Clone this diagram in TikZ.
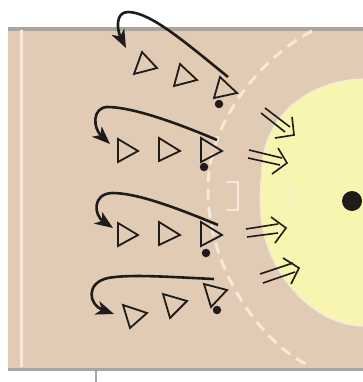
\documentclass[tikz,border=0pt]{standalone}
\usepackage{tikz}
\usetikzlibrary{arrows.meta}
\definecolor{court}{HTML}{E1CBB4}
\definecolor{goalarea}{HTML}{F8F5B0}
\definecolor{courtedge}{HTML}{A8A6A2}
\definecolor{ink}{HTML}{1E1C1B}
\definecolor{paleline}{HTML}{F3E9DC}
\tikzset{
  player/.style={draw=ink,line width=1.8pt,line join=miter},
  run/.style={draw=ink,line width=2.6pt,line cap=butt,-{Stealth[length=18pt,width=14pt,inset=5pt]}},
  shaft/.style={draw=ink,line width=1.6pt},
  ballmark/.style={circle,fill=ink,inner sep=0pt,minimum size=8.5pt},
  courtline/.style={draw=paleline,line width=2.8pt},
}
\begin{document}
\begin{tikzpicture}[x=1pt,y=-1pt]
\useasboundingbox (0,0) rectangle (363,382);
\fill[court] (8,29) rectangle (363,369);
\draw[courtedge,line width=3.5pt] (8,29) -- (363,29);
\draw[courtedge,line width=3pt] (8,369) -- (363,369);
\draw[courtedge,line width=2.5pt] (96,369) -- (96,382);
\draw[courtline,line width=3pt] (21,30) -- (21,367);
% goal area
\fill[goalarea,draw=paleline,line width=1.4pt] (364,79) .. controls (310,80) and (263,115) .. (262,170)
  .. controls (260,190) and (260,205) .. (261,215)
  .. controls (266,275) and (315,326) .. (364,326) -- cycle;
% free throw line
\draw[paleline,line width=3pt,dash pattern=on 11pt off 7pt] (312,31) .. controls (265,55) and (207,120) .. (208,190)
  .. controls (208,270) and (262,345) .. (312,367);
% bracket marks
\draw[courtline] (226,182) -- (238,182) -- (238,210) -- (226,210);
\draw[paleline!60!goalarea,line width=2.4pt] (284,188) -- (293,188) -- (293,204) -- (284,204);
% players
\draw[player] (142,52) -- (157,68) -- (134,74) -- cycle;
\draw[player] (180,64) -- (197,80) -- (174,86) -- cycle;
\draw[player] (220,77) -- (237,93) -- (214,98) -- cycle;
\foreach \dy in {0,84}{
  \draw[player] (118,139+\dy) -- (138,151+\dy) -- (118,162+\dy) -- cycle;
  \draw[player] (159,138+\dy) -- (180,151+\dy) -- (159,161+\dy) -- cycle;
  \draw[player] (201,138+\dy) -- (222,151+\dy) -- (201,162+\dy) -- cycle;
}
\draw[player] (123,305) -- (147,313) -- (130,328) -- cycle;
\draw[player] (163,294) -- (187,301) -- (170,318) -- cycle;
\draw[player] (204,284) -- (227,290) -- (211,307) -- cycle;
% balls
\node[ballmark] (b1) at (219,104) {};
\node[ballmark] (b2) at (204,167) {};
\node[ballmark] (b3) at (206,253) {};
\node[ballmark] (b4) at (217,310) {};
\node[circle,fill=ink,inner sep=0pt,minimum size=20pt] (goal) at (352,201) {};
% curved runs
\draw[run] (228,77) .. controls (185,42) and (150,12) .. (128,12) .. controls (115,12) and (117,30) .. (126,48);
\draw[run] (217,140) .. controls (170,120) and (130,107) .. (107,107) .. controls (92,108) and (93,128) .. (110,144);
\draw[run] (218,225) .. controls (170,205) and (135,193) .. (112,193) .. controls (92,194) and (94,215) .. (113,228);
\draw[run] (214,279) .. controls (170,277) and (130,274) .. (108,278) .. controls (85,283) and (89,305) .. (114,314);
% double arrows
\draw[shaft] (265,108) -- (290,127);
\draw[shaft] (261,113) -- (285,132);
\draw[shaft] (292,117) -- (294,135) -- (275,138);
\draw[shaft] (249,150) -- (282,158);
\draw[shaft] (248,158) -- (280,165);
\draw[shaft] (278,148) -- (287,163) -- (272,174);
\draw[shaft] (246,229) -- (278,224);
\draw[shaft] (247,237) -- (278,233);
\draw[shaft] (271,217) -- (286,228) -- (275,243);
\draw[shaft] (260,274) -- (293,263);
\draw[shaft] (263,283) -- (295,272);
\draw[shaft] (283,258) -- (299,268) -- (291,284);
\end{tikzpicture}
\end{document}
